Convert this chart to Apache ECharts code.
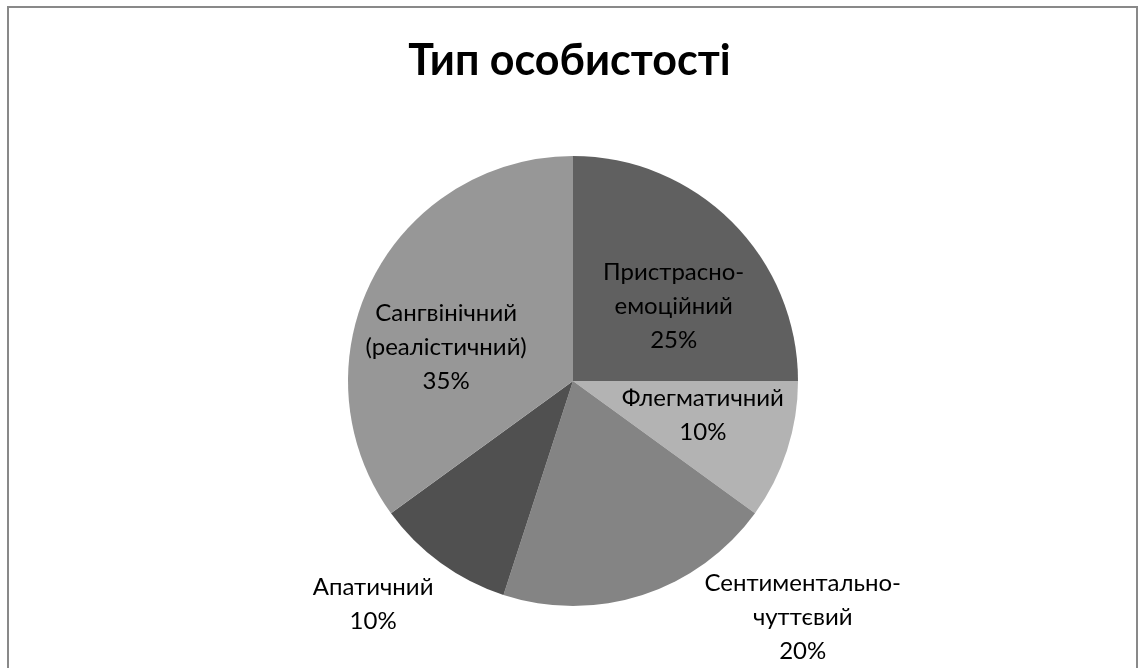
<!DOCTYPE html>
<html>
<head>
<meta charset="utf-8">
<script src="https://cdn.jsdelivr.net/npm/echarts@6/dist/echarts.min.js"></script>
<style>
  html, body { margin: 0; padding: 0; background: #fff; }
  #chart { width: 1139px; height: 668px; }
</style>
</head>
<body>
<div id="chart"></div>
<script>
// Personality types and their shares (%)
const categories = [
  'Пристрасно-\nемоційний',
  'Флегматичний',
  'Сентиментально-\nчуттєвий',
  'Апатичний',
  'Сангвінічний\n(реалістичний)'
];
const values = [25, 10, 20, 10, 35];
const colors = ['#606060', '#b3b3b3', '#848484', '#505050', '#979797'];
// Label nudges away from the default inside position
const labelOffsets = [[19, 7], [20, -1], [194, 126], [-132, 130], [-24, 19]];

const chart = echarts.init(document.getElementById('chart'));
const total = values.reduce((a, b) => a + b, 0);

chart.setOption({
  animation: false,
  title: {
    text: 'Тип особистості',
    left: 'center',
    top: 35,
    textStyle: { fontFamily: 'Lato', fontWeight: 'bold', fontSize: 43, color: '#000' }
  },
  graphic: [{
    type: 'rect',
    shape: { x: 8, y: 7, width: 1129, height: 700 },
    style: { fill: 'none', stroke: '#898989', lineWidth: 2 },
    silent: true
  }],
  series: [{
    type: 'pie',
    center: [573, 381],
    radius: 225,
    startAngle: 90,
    clockwise: true,
    avoidLabelOverlap: false,
    labelLine: { show: false },
    itemStyle: { borderWidth: 0 },
    data: categories.map((name, i) => ({
      name,
      value: values[i],
      itemStyle: { color: colors[i] },
      label: {
        show: true,
        position: 'inside',
        offset: labelOffsets[i],
        formatter: p => p.name + '\n' + Math.round(p.value / total * 100) + '%',
        fontFamily: 'Lato',
        fontSize: 24,
        lineHeight: 34,
        color: '#000',
        align: 'center'
      }
    }))
  }]
});
</script>
</body>
</html>
